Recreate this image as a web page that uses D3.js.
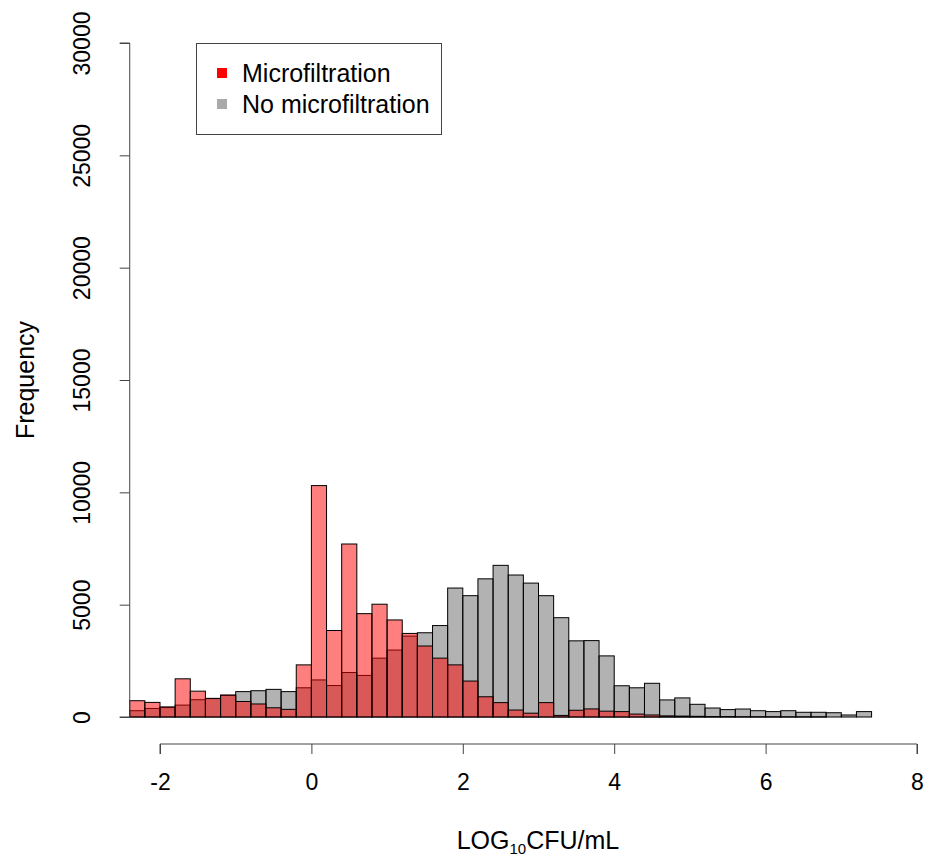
<!DOCTYPE html>
<html>
<head>
<meta charset="utf-8">
<script src="https://cdn.jsdelivr.net/npm/d3@7"></script>
<style>
  body { margin: 0; background: #fff; }
  svg text { font-family: "Liberation Sans", Arial, Helvetica, sans-serif; fill: #000; }
</style>
</head>
<body>
<svg id="chart" width="927" height="861"></svg>
<script>
// histogram bins (left edge, width 0.2)
var binStarts = [-2.4, -2.2, -2.0, -1.8, -1.6, -1.4, -1.2, -1.0, -0.8, -0.6, -0.4, -0.2,
  0.0, 0.2, 0.4, 0.6, 0.8, 1.0, 1.2, 1.4, 1.6, 1.8, 2.0, 2.2, 2.4, 2.6, 2.8, 3.0, 3.2,
  3.4, 3.6, 3.8, 4.0, 4.2, 4.4, 4.6, 4.8, 5.0, 5.2, 5.4, 5.6, 5.8, 6.0, 6.2, 6.4, 6.6,
  6.8, 7.0, 7.2];
var binWidth = 0.2;
// frequencies
var micro = [725, 650, 450, 1700, 1150, 830, 980, 690, 580, 410, 340, 2320,
  10300, 3850, 7700, 4600, 5020, 4320, 3720, 3160, 2620, 2320,
  1600, 900, 640, 310, 170, 640, 70, 300, 360, 260,
  240, 130, 90, 50, 40, 30, 20, 20, 10, 10, 10, 5, 5, 5, 0, 0, 0];
var noMicro = [280, 380, 420, 530, 770, 820, 960, 1130, 1170, 1230, 1130, 1300,
  1650, 1400, 1980, 1850, 2620, 2980, 3600, 3750, 4070, 5740,
  5400, 6150, 6750, 6320, 5960, 5400, 4420, 3390, 3400, 2720,
  1390, 1300, 1500, 760, 850, 565, 400, 330, 355, 280, 240, 280, 210, 210, 190, 90, 240];
var xTicks = [-2, 0, 2, 4, 6, 8];
var yTicks = [0, 5000, 10000, 15000, 20000, 25000, 30000];
var seriesNames = ["Microfiltration", "No microfiltration"];

var svg = d3.select("#chart");
var tickFont = 23, labelFont = 25;

var x = d3.scaleLinear().domain([-2, 8]).range([160, 917]);
var y = d3.scaleLinear().domain([0, 30000]).range([717, 43]);

var colors = {
  micro: "rgba(255,0,0,0.5)",
  noMicro: "rgba(102,102,102,0.5)",
  legendMicro: "#ff0000",
  legendNo: "#aaaaaa"
};

// bars: grey first, red on top
function drawHist(values, fill) {
  svg.append("g")
    .selectAll("rect")
    .data(values)
    .enter()
    .append("rect")
      .attr("x", function(d, i) { return x(binStarts[i]); })
      .attr("width", function(d, i) { return x(binStarts[i] + binWidth) - x(binStarts[i]); })
      .attr("y", function(d) { return y(d); })
      .attr("height", function(d) { return y(0) - y(d); })
      .attr("fill", fill)
      .attr("stroke", "#000")
      .attr("stroke-width", 1);
}
drawHist(noMicro, colors.noMicro);
drawHist(micro, colors.micro);

// plain hyphen minus, like R
var plain = function(d) { return String(d); };

// x axis (sits below the plot, like R)
var xAxis = svg.append("g")
  .attr("transform", "translate(0,744)")
  .call(d3.axisBottom(x).tickValues(xTicks).tickSize(10).tickPadding(20).tickFormat(plain));
xAxis.selectAll("text").style("font-size", tickFont + "px");
xAxis.selectAll("path, line").attr("stroke", "#444");
xAxis.select(".domain").attr("d", "M" + x(-2) + ",10V0H" + x(8) + "V10");

// y axis at the plot's left edge, labels parallel to axis
var yAxis = svg.append("g")
  .attr("transform", "translate(" + x(-2.4) + ",0)")
  .call(d3.axisLeft(y).tickValues(yTicks).tickSize(10).tickFormat(plain));
yAxis.selectAll("path, line").attr("stroke", "#444");
yAxis.select(".domain").attr("d", "M-10," + y(0) + "H0V" + y(30000) + "H-10");
yAxis.selectAll("text")
  .style("font-size", tickFont + "px")
  .attr("text-anchor", "middle")
  .attr("x", 0).attr("dy", 0)
  .attr("transform", "translate(-40,0) rotate(-90)");

// axis titles
svg.append("text")
  .attr("transform", "translate(34,380) rotate(-90)")
  .attr("text-anchor", "middle")
  .style("font-size", labelFont + "px")
  .text("Frequency");

var xt = svg.append("text")
  .attr("x", 538).attr("y", 849)
  .attr("text-anchor", "middle")
  .style("font-size", labelFont + "px");
xt.append("tspan").text("LOG");
xt.append("tspan").attr("dy", 5).style("font-size", "15px").text("10");
xt.append("tspan").attr("dy", -5).text("CFU/mL");

// legend
var legend = svg.append("g");
legend.append("rect")
  .attr("x", 196.5).attr("y", 43.5)
  .attr("width", 245).attr("height", 91)
  .attr("fill", "#fff").attr("stroke", "#444");
var legendColors = [colors.legendMicro, colors.legendNo];
seriesNames.forEach(function(name, i) {
  legend.append("rect")
    .attr("x", 217).attr("y", 68 + i * 31)
    .attr("width", 10).attr("height", 10)
    .attr("fill", legendColors[i]);
  legend.append("text")
    .attr("x", 242).attr("y", 82 + i * 31)
    .style("font-size", labelFont + "px")
    .text(name);
});
</script>
</body>
</html>
